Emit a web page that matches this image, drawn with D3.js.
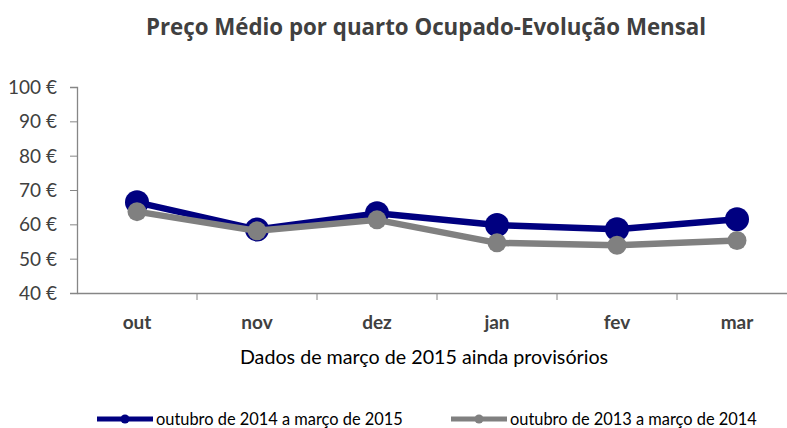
<!DOCTYPE html>
<html>
<head>
<meta charset="utf-8">
<script src="https://cdn.jsdelivr.net/npm/d3@7"></script>
<style>
  body { margin: 0; background: #fff; }
</style>
</head>
<body>
<svg id="chart" width="787" height="428"></svg>
<script>
const months = ["out", "nov", "dez", "jan", "fev", "mar"];
const serie2015 = [66.4, 58.5, 63.2, 59.8, 58.6, 61.5];
const serie2014 = [63.7, 58.1, 61.3, 54.6, 53.9, 55.3];
const yTicks = [40, 50, 60, 70, 80, 90, 100];
const seriesNames = ["outubro de 2014 a março de 2015", "outubro de 2013 a março de 2014"];

const svg = d3.select("#chart");
const padding = { top: 87, left: 77, bottom: 135 };
const chartArea = { width: 720, height: 428 - padding.top - padding.bottom };

const xScale = d3.scaleBand().domain(months).range([0, chartArea.width]);
const yScale = d3.scaleLinear().domain([40, 100]).range([chartArea.height, 0]);

svg.append("text")
  .attr("x", 426).attr("y", 35)
  .attr("text-anchor", "middle")
  .attr("font-family", "Open Sans")
  .attr("font-size", 22.3).attr("font-weight", "bold")
  .attr("fill", "#404040")
  .text("Preço Médio por quarto Ocupado-Evolução Mensal");

const g = svg.append("g").attr("transform", `translate(${padding.left},${padding.top})`);

// y axis
const yAxis = g.append("g").call(d3.axisLeft(yScale).tickValues(yTicks).tickSize(7).tickFormat((d) => d + " €"));
yAxis.select(".domain").attr("stroke", "#868686").attr("stroke-width", 1.3);
yAxis.selectAll(".tick line").attr("stroke", "#868686");
yAxis.selectAll(".tick text").attr("x", -20).attr("dy", "0.35em").attr("font-size", 19)
  .attr("fill", "#404040").attr("font-family", "Lato");

// x axis
const xAxis = g.append("g")
  .attr("transform", `translate(0,${chartArea.height})`)
  .call(d3.axisBottom(xScale).tickSize(0).tickSizeOuter(0));
xAxis.select(".domain").attr("stroke", "#868686").attr("stroke-width", 1.3);
xAxis.selectAll(".tick text").attr("y", 23).attr("font-size", 19).attr("font-weight", "bold")
  .attr("fill", "#404040").attr("font-family", "Lato");
// category separators
xAxis.selectAll(".sep")
  .data(months.slice(1))
  .join("line")
  .attr("x1", (d) => xScale(d)).attr("x2", (d) => xScale(d))
  .attr("y1", 0).attr("y2", 7)
  .attr("stroke", "#868686");

const series = [
  { name: seriesNames[0], values: serie2015, color: "#000080", r: 12 },
  { name: seriesNames[1], values: serie2014, color: "#808080", r: 9.5 },
];
const cx = (i) => xScale(months[i]) + xScale.bandwidth() / 2;
const line = d3.line().x((d, i) => cx(i)).y((d) => yScale(d));

// blue first, gray drawn over it
series.forEach((s) => {
  g.append("path").datum(s.values)
    .attr("d", line).attr("fill", "none")
    .attr("stroke", s.color).attr("stroke-width", 6.5).attr("stroke-linejoin", "round");
  g.selectAll(null).data(s.values).join("circle")
    .attr("cx", (d, i) => cx(i)).attr("cy", (d) => yScale(d))
    .attr("r", s.r).attr("fill", s.color);
});

svg.append("text")
  .attr("x", 424).attr("y", 364)
  .attr("text-anchor", "middle")
  .attr("font-family", "Lato")
  .attr("font-size", 19.7).attr("fill", "#000")
  .text("Dados de março de 2015 ainda provisórios");

// legend
const legend = svg.append("g").attr("transform", "translate(0,419)");
[{ s: series[0], x: 97 }, { s: series[1], x: 451 }].forEach((it) => {
  const lg = legend.append("g").attr("transform", `translate(${it.x},0)`);
  lg.append("line").attr("x1", 0).attr("x2", 56).attr("stroke", it.s.color).attr("stroke-width", 5);
  lg.append("circle").attr("cx", 28).attr("r", 4.5).attr("fill", it.s.color);
  lg.append("text").attr("x", 59).attr("y", 5.5).attr("font-family", "Lato")
    .attr("font-size", 16.4).attr("fill", "#000").text(it.s.name);
});
</script>
</body>
</html>
